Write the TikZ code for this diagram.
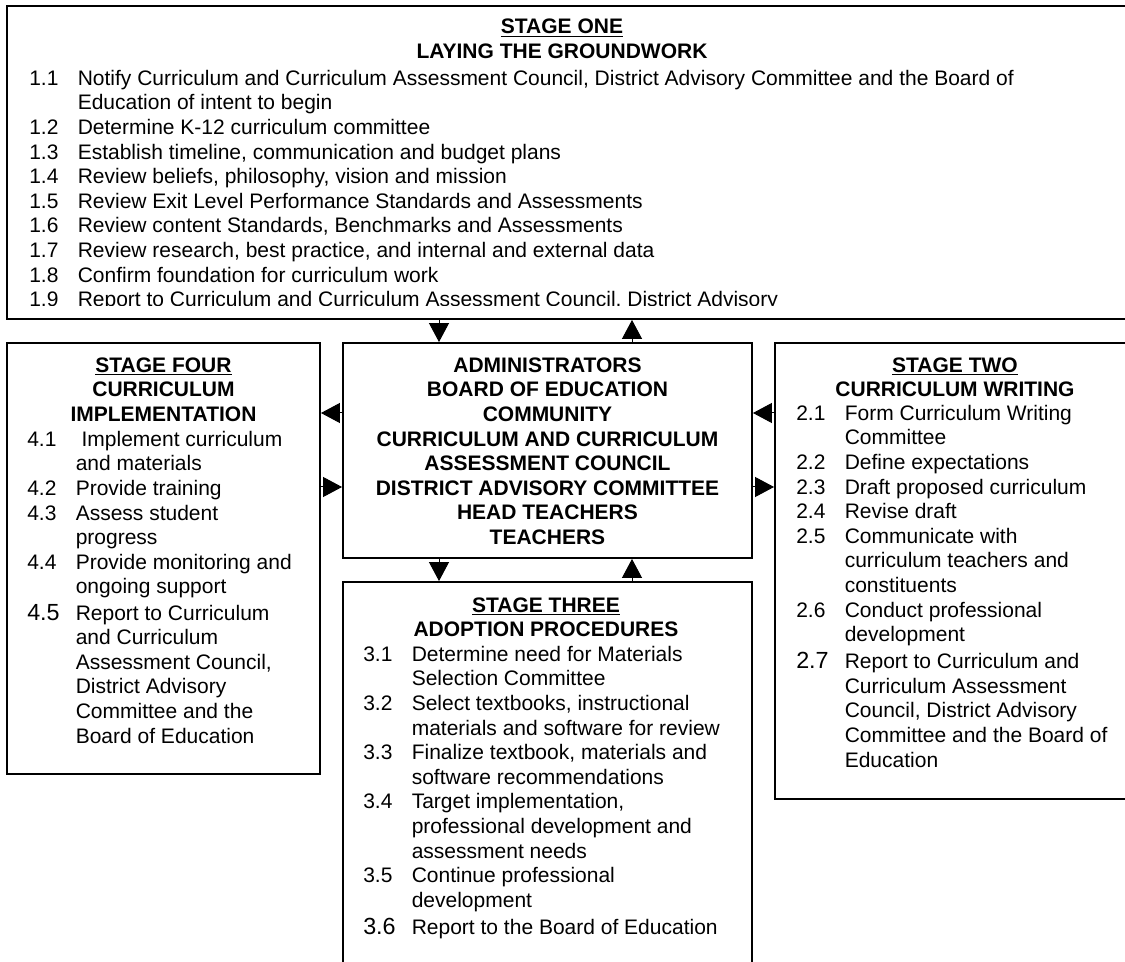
\documentclass[tikz,border=0pt]{standalone}
\usepackage{fontspec}
\setmainfont{Liberation Sans}
\usetikzlibrary{arrows.meta,fit}
\newcommand{\nb}[1]{\makebox[36.4pt][l]{#1}}
\newcommand{\bnb}[1]{\makebox[36.4pt][l]{\fontsize{17.5pt}{18.45pt}\selectfont #1}}
\newcommand{\ind}{\hspace*{36.4pt}}
\begin{document}
\begin{tikzpicture}[x=0.75pt,y=-0.75pt,
  box/.style={draw, line width=1.4pt, rectangle, inner sep=0pt},
  txt/.style={inner sep=0pt, anchor=north west, align=left, font=\fontsize{15.75pt}{18.45pt}\selectfont},
  hd/.style={inner sep=0pt, anchor=north, align=center, font=\fontsize{15.75pt}{18.45pt}\selectfont\bfseries},
  arr/.style={line width=0.75pt, -{Triangle[length=14.25pt,width=15pt]}}]
\path[use as bounding box] (0,0) rectangle (1125,962);
\clip (0,0) rectangle (1125,962);
\fill[white] (0,0) rectangle (1125,962);

% boxes
\node[box, fit={(7,6) (1135,319)}] (s1) {};
\node[box, fit={(7,343) (320,774)}] (s4) {};
\node[box, fit={(343,343) (752,558)}] (c) {};
\node[box, fit={(775,343) (1135,799)}] (s2) {};
\node[box, fit={(343,582) (752,990)}] (s3) {};

% stage one
\node[hd] (s1h) at (562,16.5) {\strut\underline{STAGE ONE}\\LAYING THE GROUNDWORK};
\begin{scope}
\clip (7,6) rectangle (1135,306);
\node[txt] (s1t) at (29,67.8) {\strut\nb{1.1}Notify Curriculum and Curriculum Assessment Council, District Advisory Committee and the Board of\\
\ind Education of intent to begin\\
\nb{1.2}Determine K-12 curriculum committee\\
\nb{1.3}Establish timeline, communication and budget plans\\
\nb{1.4}Review beliefs, philosophy, vision and mission\\
\nb{1.5}Review Exit Level Performance Standards and Assessments\\
\nb{1.6}Review content Standards, Benchmarks and Assessments\\
\nb{1.7}Review research, best practice, and internal and external data\\
\nb{1.8}Confirm foundation for curriculum work\\
\nb{1.9}Report to Curriculum and Curriculum Assessment Council, District Advisory};
\end{scope}

% stage four
\node[hd] (s4h) at (163.5,354.8) {\strut\underline{STAGE FOUR}\\CURRICULUM\\IMPLEMENTATION};
\node[txt] (s4t) at (27,428.8) {\strut\nb{4.1}\ Implement curriculum\\
\ind and materials\\
\nb{4.2}Provide training\\
\nb{4.3}Assess student\\
\ind progress\\
\nb{4.4}Provide monitoring and\\
\ind ongoing support\\[1.2pt]
\bnb{4.5}Report to Curriculum\\
\ind and Curriculum\\
\ind Assessment Council,\\
\ind District Advisory\\
\ind Committee and the\\
\ind Board of Education};

% center
\node[hd] (ct) at (547.5,354.8) {\strut ADMINISTRATORS\\BOARD OF EDUCATION\\COMMUNITY\\CURRICULUM AND CURRICULUM\\ASSESSMENT COUNCIL\\DISTRICT ADVISORY COMMITTEE\\HEAD TEACHERS\\TEACHERS};

% stage two
\node[hd] (s2h) at (955,354.8) {\strut\underline{STAGE TWO}\\CURRICULUM WRITING};
\node[txt] (s2t) at (796,402.8) {\strut\nb{2.1}Form Curriculum Writing\\
\ind Committee\\
\nb{2.2}Define expectations\\
\nb{2.3}Draft proposed curriculum\\
\nb{2.4}Revise draft\\
\nb{2.5}Communicate with\\
\ind curriculum teachers and\\
\ind constituents\\
\nb{2.6}Conduct professional\\
\ind development\\[1.8pt]
\bnb{2.7}Report to Curriculum and\\
\ind Curriculum Assessment\\
\ind Council, District Advisory\\
\ind Committee and the Board of\\
\ind Education};

% stage three
\node[hd] (s3h) at (546,594.8) {\strut\underline{STAGE THREE}\\ADOPTION PROCEDURES};
\node[txt] (s3t) at (363,643.8) {\strut\nb{3.1}Determine need for Materials\\
\ind Selection Committee\\
\nb{3.2}Select textbooks, instructional\\
\ind materials and software for review\\
\nb{3.3}Finalize textbook, materials and\\
\ind software recommendations\\
\nb{3.4}Target implementation,\\
\ind professional development and\\
\ind assessment needs\\
\nb{3.5}Continue professional\\
\ind development\\[1.8pt]
\bnb{3.6}Report to the Board of Education};

% connectors
\coordinate (xa) at (439,0);
\coordinate (xb) at (632,0);
\coordinate (ya) at (0,413);
\coordinate (yb) at (0,487);
\draw[arr] (s1.south -| xa) -- (c.north -| xa);
\draw[arr] (c.north -| xb) -- (s1.south -| xb);
\draw[arr] (c.south -| xa) -- (s3.north -| xa);
\draw[arr] (s3.north -| xb) -- (c.south -| xb);
\draw[arr] (c.west |- ya) -- (s4.east |- ya);
\draw[arr] (s4.east |- yb) -- (c.west |- yb);
\draw[arr] (s2.west |- ya) -- (c.east |- ya);
\draw[arr] (c.east |- yb) -- (s2.west |- yb);
\end{tikzpicture}
\end{document}
